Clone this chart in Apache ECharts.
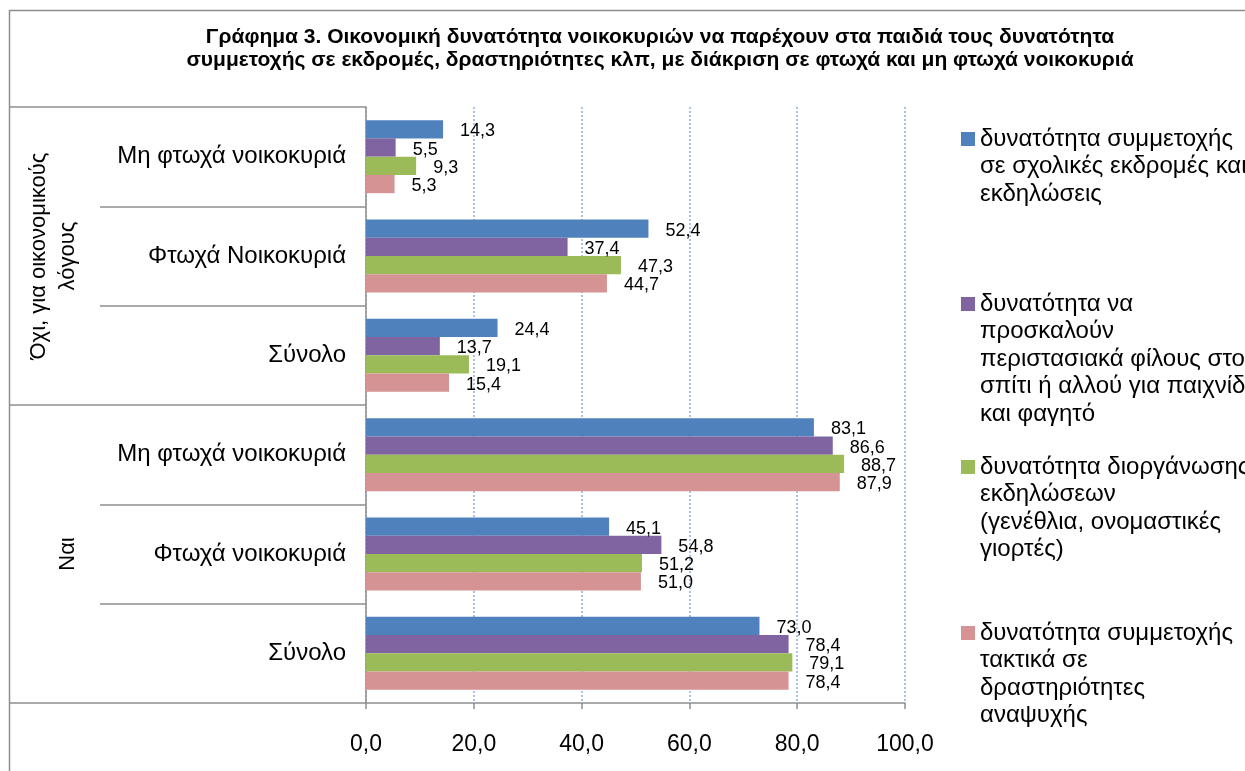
<!DOCTYPE html>
<html>
<head>
<meta charset="utf-8">
<script src="https://cdn.jsdelivr.net/npm/echarts@6/dist/echarts.min.js"></script>
<style>
html, body { margin: 0; padding: 0; background: #fff; }
#main { width: 1245px; height: 771px; }
</style>
</head>
<body>
<div id="main"></div>
<script>
// categories, top to bottom
const categories = ['Μη φτωχά νοικοκυριά', 'Φτωχά Νοικοκυριά', 'Σύνολο', 'Μη φτωχά νοικοκυριά', 'Φτωχά νοικοκυριά', 'Σύνολο'];
const groups = ['Όχι, για οικονομικούς\nλόγους', 'Ναι'];

const seriesNames = [
  'δυνατότητα συμμετοχής\nσε σχολικές εκδρομές και\nεκδηλώσεις',
  'δυνατότητα να\nπροσκαλούν\nπεριστασιακά φίλους στο\nσπίτι ή αλλού για παιχνίδι\nκαι φαγητό',
  'δυνατότητα διοργάνωσης\nεκδηλώσεων\n(γενέθλια, ονομαστικές\nγιορτές)',
  'δυνατότητα συμμετοχής\nτακτικά σε\nδραστηριότητες\nαναψυχής'
];

const excursions = [14.3, 52.4, 24.4, 83.1, 45.1, 73.0];
const inviteFriends = [5.5, 37.4, 13.7, 86.6, 54.8, 78.4];
const celebrations = [9.3, 47.3, 19.1, 88.7, 51.2, 79.1];
const leisure = [5.3, 44.7, 15.4, 87.9, 51.0, 78.4];

const xTicks = [0, 20, 40, 60, 80, 100];

const colors = ['#4F81BD', '#8064A2', '#9BBB59', '#D59393'];
const seriesData = [excursions, inviteFriends, celebrations, leisure];

const fmt = v => Number(v).toFixed(1).replace('.', ',');

var chartDom = document.getElementById('main');
var myChart = echarts.init(chartDom);

// legend: one block per item; blank lines in front so the square sits on the first line
const LH = 27.5;
const firstLineY = [139, 304, 467, 633];
const legends = seriesNames.map((name, i) => {
  const n = name.split('\n').length;
  return {
    data: [name],
    orient: 'vertical',
    left: 961,
    top: firstLineY[i] - (2 * n - 1) * LH / 2,
    padding: 0,
    itemGap: 0,
    icon: 'rect',
    itemWidth: 14,
    itemHeight: 14,
    selectedMode: false,
    formatter: nm => '\n'.repeat(n - 1) + nm,
    textStyle: {
      fontFamily: 'Liberation Sans, Arial, sans-serif',
      fontSize: 24,
      lineHeight: LH,
      color: '#000'
    }
  };
});

var option = {
  backgroundColor: '#fff',
  animation: false,
  textStyle: { fontFamily: 'Liberation Sans, Arial, sans-serif' },
  title: {
    text: 'Γράφημα 3. Οικονομική δυνατότητα νοικοκυριών να παρέχουν στα παιδιά τους δυνατότητα\nσυμμετοχής σε εκδρομές, δραστηριότητες κλπ, με διάκριση σε φτωχά και μη φτωχά νοικοκυριά',
    left: 655,
    top: 21,
    textAlign: 'center',
    textStyle: {
      fontFamily: 'Liberation Sans, Arial, sans-serif',
      fontSize: 21,
      fontWeight: 'bold',
      lineHeight: 23,
      color: '#000'
    }
  },
  legend: legends,
  graphic: [
    {
      type: 'rect',
      shape: { x: 9.5, y: 10.5, width: 1400, height: 900 },
      style: { fill: 'none', stroke: '#8e8e8e', lineWidth: 1.5 },
      z: -1
    }
  ],
  grid: {
    left: 366,
    right: 340,
    top: 107,
    bottom: 68
  },
  xAxis: {
    type: 'value',
    min: 0,
    max: 100,
    interval: 20,
    axisLine: { show: true, lineStyle: { color: '#8e8e8e', width: 1.5 } },
    axisTick: { show: true, length: 6, lineStyle: { color: '#8e8e8e', width: 1.5 } },
    axisLabel: {
      formatter: v => xTicks.includes(v) ? fmt(v) : '',
      fontSize: 23,
      color: '#000',
      margin: 30
    },
    splitLine: {
      show: true,
      lineStyle: { type: 'dotted', color: '#A9C1E6', width: 2 }
    }
  },
  yAxis: [
    {
      type: 'category',
      inverse: true,
      data: categories,
      axisLine: { show: true, lineStyle: { color: '#8e8e8e', width: 1.5 } },
      axisTick: { show: true, length: 266, lineStyle: { color: '#8e8e8e', width: 1.5 } },
      axisLabel: { fontSize: 24, color: '#000', margin: 20 },
      splitLine: { show: false }
    },
    {
      type: 'category',
      inverse: true,
      data: groups,
      position: 'left',
      axisLine: { show: false },
      axisTick: { show: true, length: 357, lineStyle: { color: '#8e8e8e', width: 1.5 } },
      axisLabel: { fontSize: 22, color: '#000', rotate: 90, margin: 284, lineHeight: 29 },
      splitLine: { show: false }
    }
  ],
  series: seriesData.map((d, i) => ({
    name: seriesNames[i],
    type: 'bar',
    yAxisIndex: 0,
    barGap: '0%',
    barCategoryGap: '26.5%',
    itemStyle: { color: colors[i] },
    label: {
      show: true,
      position: 'right',
      distance: 17,
      offset: [0, 2],
      formatter: p => fmt(p.value),
      fontSize: 18,
      color: '#000'
    },
    data: d
  }))
};

option && myChart.setOption(option);
</script>
</body>
</html>
